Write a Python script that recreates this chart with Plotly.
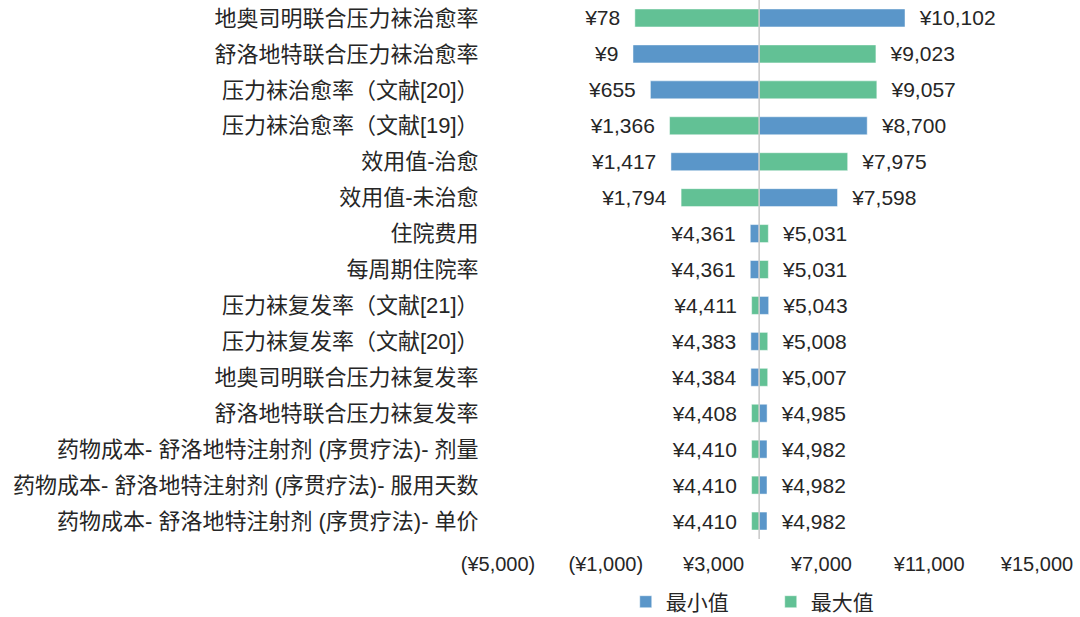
import plotly.graph_objects as go

categories = [
    "地奥司明联合压力袜治愈率",
    "舒洛地特联合压力袜治愈率",
    "压力袜治愈率（文献[20]）",
    "压力袜治愈率（文献[19]）",
    "效用值-治愈",
    "效用值-未治愈",
    "住院费用",
    "每周期住院率",
    "压力袜复发率（文献[21]）",
    "压力袜复发率（文献[20]）",
    "地奥司明联合压力袜复发率",
    "舒洛地特联合压力袜复发率",
    "药物成本- 舒洛地特注射剂 (序贯疗法)- 剂量",
    "药物成本- 舒洛地特注射剂 (序贯疗法)- 服用天数",
    "药物成本- 舒洛地特注射剂 (序贯疗法)- 单价",
]
min_values = [10102, 9, 655, 8700, 1417, 7598, 4361, 4361, 5043, 4383, 4384, 4985, 4982, 4982, 4982]
max_values = [78, 9023, 9057, 1366, 7975, 1794, 5031, 5031, 4411, 5008, 5007, 4408, 4410, 4410, 4410]
base_value = 4690

tick_vals = [-5000, -1000, 3000, 7000, 11000, 15000]
tick_text = ["(¥5,000)", "(¥1,000)", "¥3,000", "¥7,000", "¥11,000", "¥15,000"]

BLUE = "#5A96C9"
GREEN = "#62C195"
FONT = "Liberation Sans, Noto Sans CJK SC, sans-serif"
TXT = "#262626"
PAD = "\u00a0\u00a0"


def labels(vals):
    out = []
    for v in vals:
        s = f"¥{v:,}"
        out.append(s + PAD if v < base_value else PAD + s)
    return out


fig = go.Figure()
for name, vals, color in [("最小值", min_values, BLUE), ("最大值", max_values, GREEN)]:
    fig.add_trace(go.Bar(
        name=name,
        y=categories,
        x=[v - base_value for v in vals],
        base=base_value,
        orientation="h",
        marker=dict(color=color, line=dict(color="rgba(255,255,255,0.6)", width=0.8)),
        text=labels(vals),
        textposition="outside",
        constraintext="none",
        cliponaxis=False,
        textfont=dict(family=FONT, size=21, color=TXT),
    ))

fig.add_shape(type="line", xref="x", yref="paper", x0=base_value, x1=base_value, y0=0, y1=1,
              line=dict(color="#C8C8C8", width=1.5), layer="above")

fig.update_layout(
    width=1080, height=617,
    barmode="overlay",
    bargap=0.5,
    plot_bgcolor="white", paper_bgcolor="white",
    margin=dict(l=498, r=43, t=0, b=78, autoexpand=False),
    font=dict(family=FONT, size=21, color=TXT),
    xaxis=dict(range=[-5000, 15000], tickvals=tick_vals, ticktext=tick_text,
               showgrid=False, zeroline=False, showline=False, automargin=False,
               ticks="", ticklabelstandoff=11,
               tickfont=dict(family=FONT, size=20, color=TXT)),
    yaxis=dict(autorange="reversed", showgrid=False, zeroline=False, showline=False,
               automargin=False,
               ticks="outside", ticklen=14, tickcolor="rgba(0,0,0,0)",
               tickfont=dict(family=FONT, size=22, color=TXT)),
    legend=dict(orientation="h", x=0.237, xanchor="left", y=-0.117, yanchor="middle",
                bgcolor="rgba(0,0,0,0)",
                font=dict(family=FONT, size=21, color=TXT), itemwidth=30,
                entrywidth=100, entrywidthmode="pixels",
                traceorder="normal"),
    showlegend=True,
)

fig.write_html("out.html", config={"displayModeBar": False},
               post_script="document.body.style.margin='0';document.body.style.overflow='hidden';")
